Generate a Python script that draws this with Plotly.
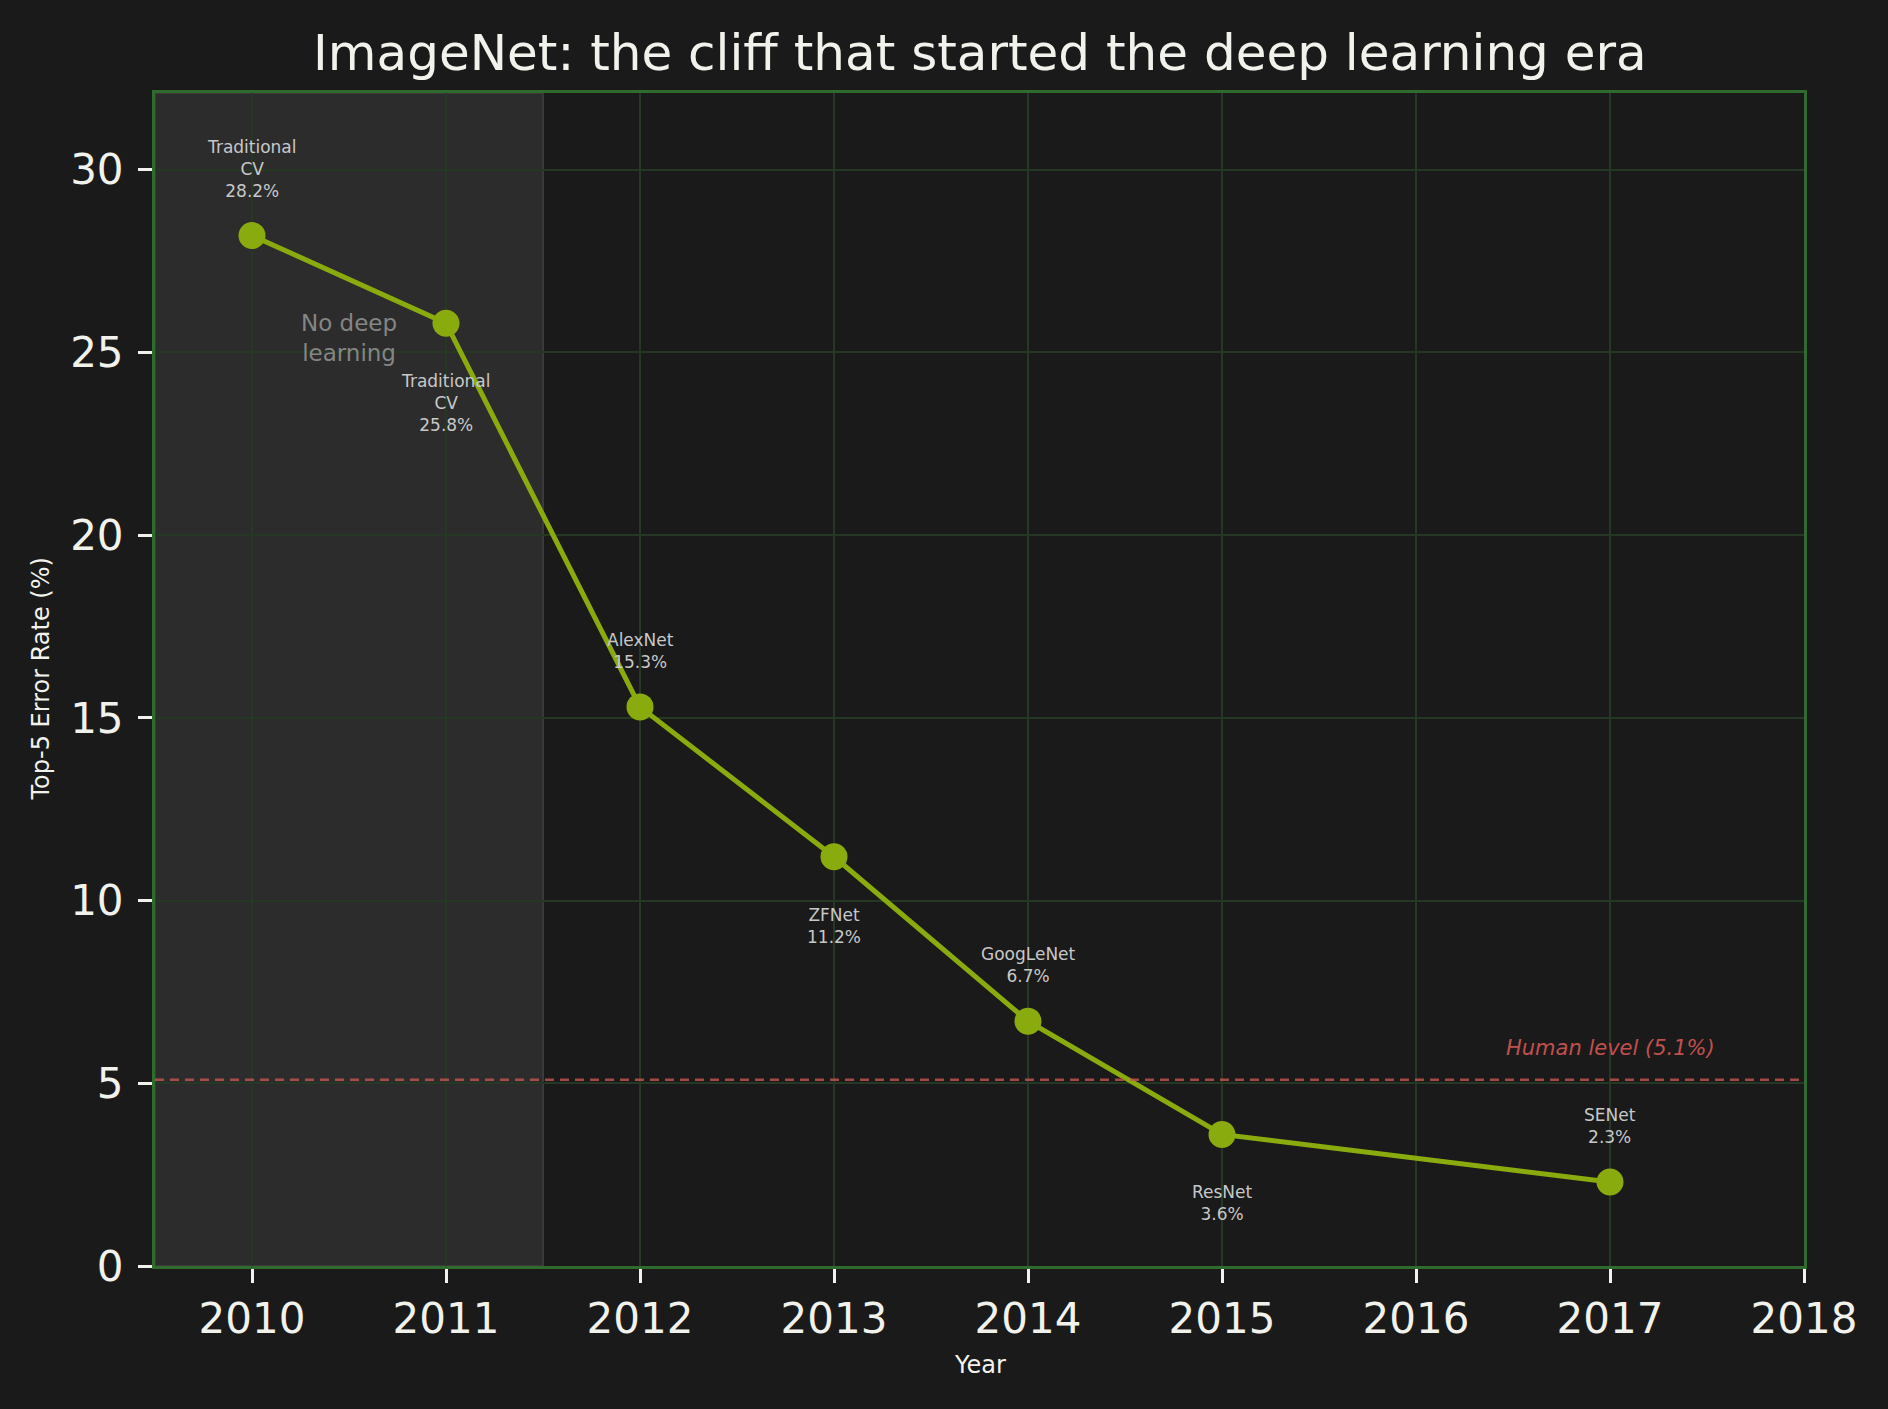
import plotly.graph_objects as go

# ImageNet top-5 error by year (2016 has no entry)
years = [2010, 2011, 2012, 2013, 2014, 2015, 2017]
error_rates = [28.2, 25.8, 15.3, 11.2, 6.7, 3.6, 2.3]
model_names = ["Traditional<br>CV", "Traditional<br>CV", "AlexNet", "ZFNet",
               "GoogLeNet", "ResNet", "SENet"]
label_above = [True, False, True, False, True, False, True]

human_level = 5.1
x_ticks = list(range(2010, 2019))
y_ticks = [0, 5, 10, 15, 20, 25, 30]

FONT = "DejaVu Sans"
BG = "#1a1a1a"
TEXT = "#f2f2ec"
LINE_GREEN = "#8aab0d"
GRID = "#243824"
SPINE = "#2f6b2f"

fig = go.Figure()

fig.add_trace(go.Scatter(
    x=years, y=error_rates, mode="lines+markers",
    line=dict(color=LINE_GREEN, width=5),
    marker=dict(color=LINE_GREEN, size=27),
    showlegend=False, hoverinfo="skip",
))

# pre-deep-learning band
fig.add_vrect(x0=2009.5, x1=2011.5, fillcolor="#2c2c2c", opacity=1,
              layer="below", line=dict(color="#3a3a3a", width=2))

# human level line
fig.add_hline(y=human_level, line=dict(color="rgba(200,85,80,0.8)", width=2.5, dash="9px,6px"))

annotations = []
for yr, rate, name, above in zip(years, error_rates, model_names, label_above):
    annotations.append(dict(
        x=yr, y=rate, xref="x", yref="y", showarrow=False,
        text=f"{name}<br>{rate}%",
        font=dict(family=FONT, size=17, color="#c8c8c8"),
        yanchor="bottom" if above else "top",
        yshift=33 if above else -46,
    ))

annotations.append(dict(
    x=2010.5, y=25.4, xref="x", yref="y", showarrow=False,
    text="No deep<br>learning", font=dict(family=FONT, size=23, color="#858585"),
))
annotations.append(dict(
    x=2017, y=human_level, xref="x", yref="y", showarrow=False, yshift=32,
    text="Human level (5.1%)",
    font=dict(family=FONT, size=21, color="#c0504d", style="italic"),
))
annotations.append(dict(
    x=0, y=0.5, xref="paper", yref="paper", showarrow=False, xshift=-115,
    xanchor="center", yanchor="middle", textangle=-90,
    text="Top-5 Error Rate (%)",
    font=dict(family=FONT, size=24, color=TEXT),
))
annotations.append(dict(
    x=0.5, y=0, xref="paper", yref="paper", showarrow=False, yshift=-99,
    xanchor="center", yanchor="middle",
    text="Year", font=dict(family=FONT, size=24, color=TEXT),
))

fig.update_layout(
    width=1888, height=1409,
    paper_bgcolor=BG, plot_bgcolor=BG,
    margin=dict(l=155, r=84, t=93, b=143),
    font=dict(family=FONT, color=TEXT),
    title=dict(text="ImageNet: the cliff that started the deep learning era",
               x=0.519, xanchor="center", y=1 - 52 / 1409, yanchor="middle",
               font=dict(family=FONT, size=50, color=TEXT)),
    annotations=annotations,
)

fig.update_xaxes(
    range=[2009.5, 2018], tickvals=x_ticks, ticks="outside", ticklen=14,
    tickwidth=3, tickcolor=TEXT, tickfont=dict(size=42, color=TEXT),
    showgrid=True, gridcolor=GRID, gridwidth=2, zeroline=False,
    showline=True, linecolor=SPINE, linewidth=3, mirror=True,
)
fig.update_yaxes(
    range=[0, 32.1], tickvals=y_ticks, ticks="outside", ticklen=14,
    tickwidth=3, tickcolor=TEXT, tickfont=dict(size=42, color=TEXT),
    ticklabelstandoff=6,
    showgrid=True, gridcolor=GRID, gridwidth=2, zeroline=False,
    showline=True, linecolor=SPINE, linewidth=3, mirror=True,
)

fig.write_html(
    "out.html",
    config={"displayModeBar": False},
    post_script="document.body.style.margin='0';document.body.style.background='#1a1a1a';",
)
